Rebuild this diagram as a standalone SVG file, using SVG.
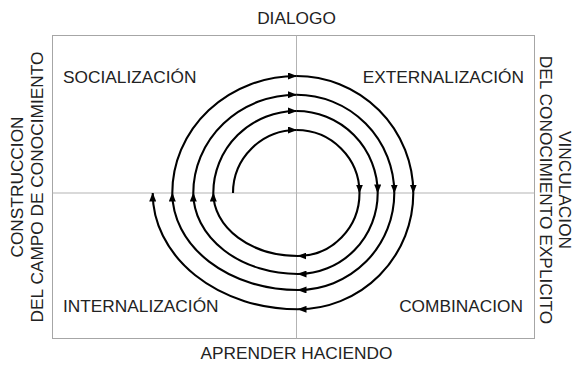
<svg xmlns="http://www.w3.org/2000/svg" width="575" height="367" viewBox="0 0 575 367">
  <style>
    text { font-family: "Liberation Sans", Arial, sans-serif; font-size: 17.3px; fill: #222; }
    .mid { text-anchor: middle; }
    .end { text-anchor: end; }
    .frame { fill: none; stroke: #a6a6a6; stroke-width: 1; }
    .axis { stroke: #b3b3b3; stroke-width: 1; }
    .arc { fill: none; stroke: #000; stroke-width: 2.1; marker-end: url(#ah); }
  </style>
  <defs>
    <marker id="ah" markerUnits="userSpaceOnUse" markerWidth="9" markerHeight="7" refX="8.5" refY="3.5" orient="auto">
      <path d="M0,0 L9,3.5 L0,7 z" fill="#000"/>
    </marker>
  </defs>
  <rect width="575" height="367" fill="#fff"/>

  <g id="frame">
    <rect class="frame" x="52.5" y="35.5" width="482" height="303"/>
    <line class="axis" x1="296.5" y1="35.5" x2="296.5" y2="338.5"/>
    <line class="axis" x1="52.5" y1="193" x2="534.5" y2="193"/>
  </g>

  <g id="axis-labels">
    <g id="dialogo"><text class="mid" x="296.5" y="24">DIALOGO</text></g>
    <g id="aprender"><text class="mid" x="296.5" y="359">APRENDER HACIENDO</text></g>
    <g id="construccion">
      <text class="mid" transform="translate(23.3,187) rotate(-90)">CONSTRUCCION</text>
      <text class="mid" transform="translate(43.3,187) rotate(-90)">DEL CAMPO DE CONOCIMIENTO</text>
    </g>
    <g id="vinculacion">
      <text class="mid" transform="translate(559,190) rotate(90)">VINCULACION</text>
      <text class="mid" transform="translate(539.5,190) rotate(90)">DEL CONOCIMIENTO EXPLICITO</text>
    </g>
  </g>

  <g id="socializacion"><text x="63" y="83">SOCIALIZACIÓN</text></g>
  <g id="externalizacion"><text class="end" x="524" y="83">EXTERNALIZACIÓN</text></g>
  <g id="internalizacion"><text x="63" y="312">INTERNALIZACIÓN</text></g>
  <g id="combinacion"><text class="end" x="523" y="312">COMBINACION</text></g>

  <g id="connectors">
    <!-- turn 1 -->
    <path class="arc" d="M233,193 A63.5,63 0 0 1 296.5,130"/>
    <path class="arc" d="M296.5,130 A63,63 0 0 1 359.5,193"/>
    <path class="arc" d="M359.5,193 A61.5,63 0 0 1 298,256"/>
    <path class="arc" d="M298,256 A84.7,63 0 0 1 213.3,193"/>
    <!-- turn 2 -->
    <path class="arc" d="M213.3,193 A83.2,82 0 0 1 296.5,111"/>
    <path class="arc" d="M296.5,111 A81.2,82 0 0 1 377.7,193"/>
    <path class="arc" d="M377.7,193 A79.7,81 0 0 1 298,274"/>
    <path class="arc" d="M298,274 A104.7,81 0 0 1 193.3,193"/>
    <!-- turn 3 -->
    <path class="arc" d="M193.3,193 A103.2,98.3 0 0 1 296.5,94.7"/>
    <path class="arc" d="M296.5,94.7 A97.8,98.3 0 0 1 394.3,193"/>
    <path class="arc" d="M394.3,193 A96.3,97 0 0 1 298,290"/>
    <path class="arc" d="M298,290 A125.7,97 0 0 1 172.3,193"/>
    <!-- turn 4 -->
    <path class="arc" d="M172.3,193 A124.2,117 0 0 1 296.5,76"/>
    <path class="arc" d="M296.5,76 A116.8,117 0 0 1 413.3,193"/>
    <path class="arc" d="M413.3,193 A115.3,116.3 0 0 1 298,309.3"/>
    <path class="arc" d="M298,309.3 A145.3,116.3 0 0 1 152.7,193"/>
  </g>
</svg>
